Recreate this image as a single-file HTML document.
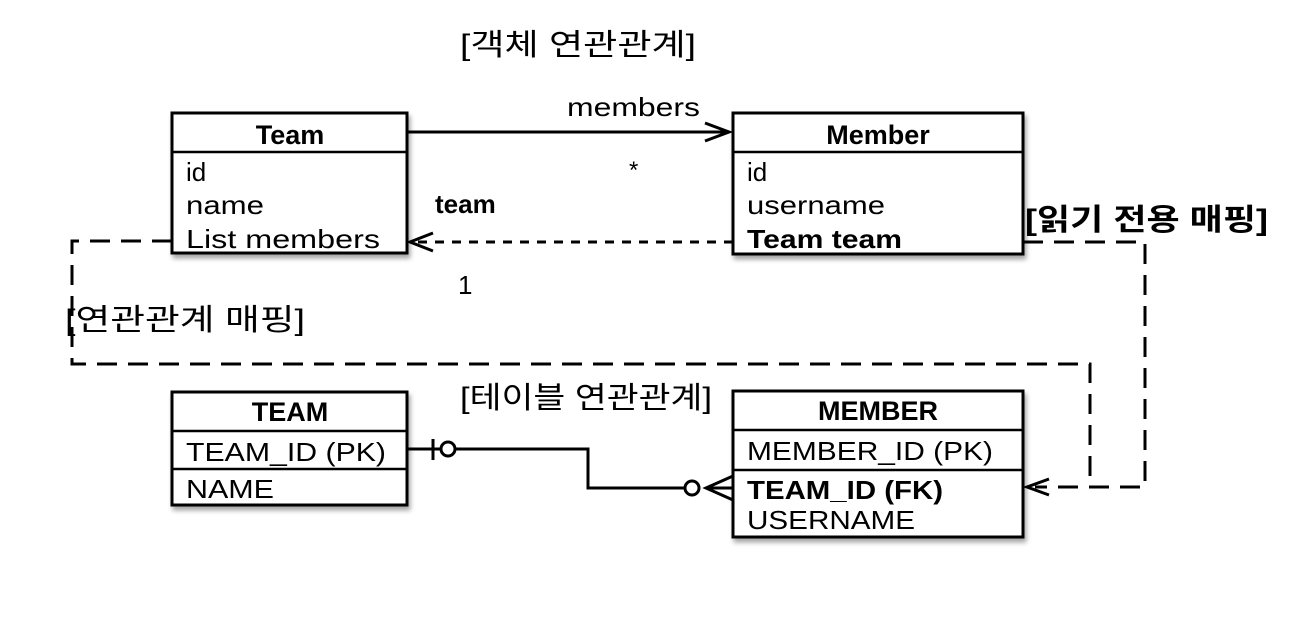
<!DOCTYPE html>
<html><head><meta charset="utf-8"><style>html,body{margin:0;padding:0;background:#fff}svg{display:block}</style></head>
<body>
<svg width="1315" height="617" viewBox="0 0 1315 617" xmlns="http://www.w3.org/2000/svg" font-family="'Liberation Sans','Noto Sans CJK KR',sans-serif">
<defs>
<filter id="sh" x="-5%" y="-5%" width="115%" height="120%"><feDropShadow dx="2" dy="4" stdDeviation="2.5" flood-color="#000" flood-opacity="0.35"/></filter>
</defs>
<rect width="1315" height="617" fill="#fff"/>
<!-- titles -->
<text x="460" y="55" font-size="30" textLength="236" lengthAdjust="spacingAndGlyphs">[객체 연관관계]</text>
<text x="460" y="408" font-size="30" textLength="252" lengthAdjust="spacingAndGlyphs">[테이블 연관관계]</text>
<text x="65" y="330" font-size="30" textLength="240" lengthAdjust="spacingAndGlyphs">[연관관계 매핑]</text>
<text x="1025" y="230" font-size="30" font-weight="bold" textLength="243" lengthAdjust="spacingAndGlyphs">[읽기 전용 매핑]</text>

<g fill="none" stroke="#000" stroke-width="3">
<!-- dashed mapping loops -->
<polyline points="172,241 72,241 72,364 1090,364 1090,487" stroke-dasharray="20,11"/>
<polyline points="1023,242 1145,242 1145,487 1035,487" stroke-dasharray="20,11"/>
<!-- solid arrow members -->
<line x1="407" y1="132" x2="728" y2="132"/>
<polyline points="705,123 729,132 705,141"/>
<!-- dashed arrow team -->
<line x1="733" y1="242" x2="412" y2="242" stroke-dasharray="9,8"/>
<polyline points="433,233 410,242 433,251"/>
<!-- arrow into MEMBER -->
<polyline points="1049,479 1027,487 1049,495"/>
<!-- ER connector -->
<polyline points="407,449 588,449 588,488 685,488"/>
<line x1="433" y1="439" x2="433" y2="460"/>
<circle cx="448" cy="449" r="7" fill="#fff"/>
<circle cx="692" cy="488" r="7" fill="#fff"/>
<polyline points="733,476 706,488 733,500"/>
<line x1="706" y1="488" x2="733" y2="488"/>
</g>

<!-- Team box -->
<g filter="url(#sh)"><rect x="172" y="113" width="235" height="140" fill="#fff" stroke="#000" stroke-width="3"/></g>
<line x1="172" y1="152" x2="407" y2="152" stroke="#000" stroke-width="2.5"/>
<text x="290" y="144" font-size="27" font-weight="bold" text-anchor="middle">Team</text>
<text x="186" y="181" font-size="26">id</text>
<text x="186" y="214" font-size="26" textLength="78" lengthAdjust="spacingAndGlyphs">name</text>
<text x="186" y="248" font-size="26" textLength="194" lengthAdjust="spacingAndGlyphs">List members</text>

<!-- Member box -->
<g filter="url(#sh)"><rect x="733" y="113" width="290" height="141" fill="#fff" stroke="#000" stroke-width="3"/></g>
<line x1="733" y1="152" x2="1023" y2="152" stroke="#000" stroke-width="2.5"/>
<text x="878" y="144" font-size="27" font-weight="bold" text-anchor="middle">Member</text>
<text x="747" y="181" font-size="26">id</text>
<text x="747" y="214" font-size="26" textLength="138" lengthAdjust="spacingAndGlyphs">username</text>
<text x="747" y="248" font-size="26" font-weight="bold" textLength="155" lengthAdjust="spacingAndGlyphs">Team team</text>

<!-- labels -->
<text x="567" y="116" font-size="26" textLength="133" lengthAdjust="spacingAndGlyphs">members</text>
<text x="629" y="178" font-size="24">*</text>
<text x="435" y="213" font-size="26" font-weight="bold">team</text>
<text x="458" y="294" font-size="26">1</text>

<!-- TEAM table -->
<g filter="url(#sh)"><rect x="172" y="392" width="235" height="113" fill="#fff" stroke="#000" stroke-width="3"/></g>
<line x1="172" y1="431" x2="407" y2="431" stroke="#000" stroke-width="2.5"/>
<line x1="172" y1="469" x2="407" y2="469" stroke="#000" stroke-width="2.5"/>
<text x="290" y="421" font-size="27" font-weight="bold" text-anchor="middle">TEAM</text>
<text x="186" y="461" font-size="26" textLength="200" lengthAdjust="spacingAndGlyphs">TEAM_ID (PK)</text>
<text x="186" y="498" font-size="26" textLength="88" lengthAdjust="spacingAndGlyphs">NAME</text>

<!-- MEMBER table -->
<g filter="url(#sh)"><rect x="733" y="391" width="290" height="146" fill="#fff" stroke="#000" stroke-width="3"/></g>
<line x1="733" y1="430" x2="1023" y2="430" stroke="#000" stroke-width="2.5"/>
<line x1="733" y1="470" x2="1023" y2="470" stroke="#000" stroke-width="2.5"/>
<text x="878" y="420" font-size="27" font-weight="bold" text-anchor="middle">MEMBER</text>
<text x="747" y="460" font-size="26" textLength="246" lengthAdjust="spacingAndGlyphs">MEMBER_ID (PK)</text>
<text x="747" y="499" font-size="26" font-weight="bold" textLength="196" lengthAdjust="spacingAndGlyphs">TEAM_ID (FK)</text>
<text x="747" y="529" font-size="26" textLength="168" lengthAdjust="spacingAndGlyphs">USERNAME</text>
</svg>
</body></html>
